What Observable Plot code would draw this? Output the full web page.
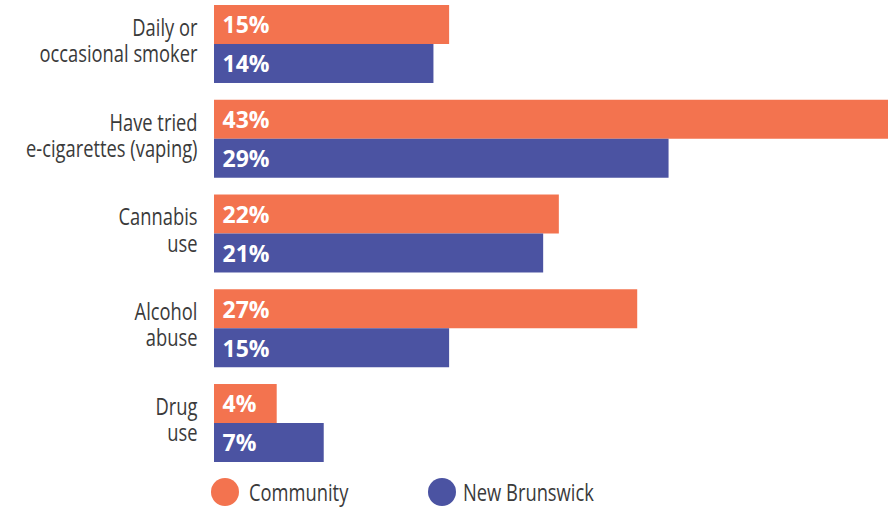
<!DOCTYPE html>
<html>
<head>
<meta charset="utf-8">
<script src="https://cdn.jsdelivr.net/npm/d3@7"></script>
<script src="https://cdn.jsdelivr.net/npm/@observablehq/plot@0.6"></script>
<style>
  body { margin: 0; background: #fff; font-family: "Open Sans", sans-serif; }
  #chart { position: relative; width: 896px; }
  .legend { position: relative; width: 896px; height: 38px; }
  .legend .sw { position: absolute; top: 8px; width: 28px; height: 28px; border-radius: 50%; }
  .legend .lb { position: absolute; top: 7px; font-size: 23.5px; line-height: 30px; color: #3a3a3a;
                transform: scaleX(0.78); transform-origin: left center; white-space: nowrap; }
</style>
</head>
<body>
<div id="chart"></div>
<script>
const categories = ["Daily or\noccasional smoker", "Have tried\ne-cigarettes (vaping)", "Cannabis\nuse", "Alcohol\nabuse", "Drug\nuse"];
const series = ["Community", "New Brunswick"];
const community = [15, 43, 22, 27, 4];
const newBrunswick = [14, 29, 21, 15, 7];
const colors = ["#F3734F", "#4B53A2"];

const data = [];
categories.forEach((c, i) => {
  data.push({category: c, series: series[0], value: community[i]});
  data.push({category: c, series: series[1], value: newBrunswick[i]});
});

const chart = Plot.plot({
  width: 896,
  height: 470,
  marginLeft: 214,
  marginRight: 8,
  marginTop: 5,
  marginBottom: 8,
  style: {fontFamily: '"Open Sans", sans-serif', background: "#fff"},
  x: {domain: [0, 43], axis: null},
  fy: {domain: categories, paddingInner: 0.177, paddingOuter: 0, round: false, axis: null},
  y: {domain: series, padding: 0, round: false, axis: null},
  color: {domain: series, range: colors},
  marks: [
    Plot.barX(data, {x: "value", y: "series", fy: "category", fill: "series"}),
    Plot.text(data, {
      x: 0, y: "series", fy: "category",
      text: d => d.value + "%",
      dx: 8, dy: 1, textAnchor: "start", fill: "white",
      fontWeight: "bold", fontSize: 23
    }),
    Plot.text(categories, {
      fy: d => d, text: d => d,
      frameAnchor: "left", textAnchor: "end",
      dx: -17, dy: -4, lineHeight: 1.12,
      fontSize: 23.5, fill: "#3a3a3a"
    })
  ]
});
document.getElementById("chart").appendChild(chart);

// condense the category labels (the reference uses a condensed typeface)
chart.querySelectorAll("text").forEach(el => {
  if (el.textContent.includes("%")) return;
  const t = el.getAttribute("transform") || "";
  el.setAttribute("transform", `${t} scale(0.78,1)`);
});

const legend = document.createElement("div");
legend.className = "legend";
const swLeft = [211, 428];
const lbLeft = [249, 463];
series.forEach((s, i) => {
  const sw = document.createElement("div");
  sw.className = "sw";
  sw.style.left = swLeft[i] + "px";
  sw.style.background = colors[i];
  const lb = document.createElement("div");
  lb.className = "lb";
  lb.style.left = lbLeft[i] + "px";
  lb.textContent = s;
  legend.appendChild(sw);
  legend.appendChild(lb);
});
document.body.appendChild(legend);
</script>
</body>
</html>
